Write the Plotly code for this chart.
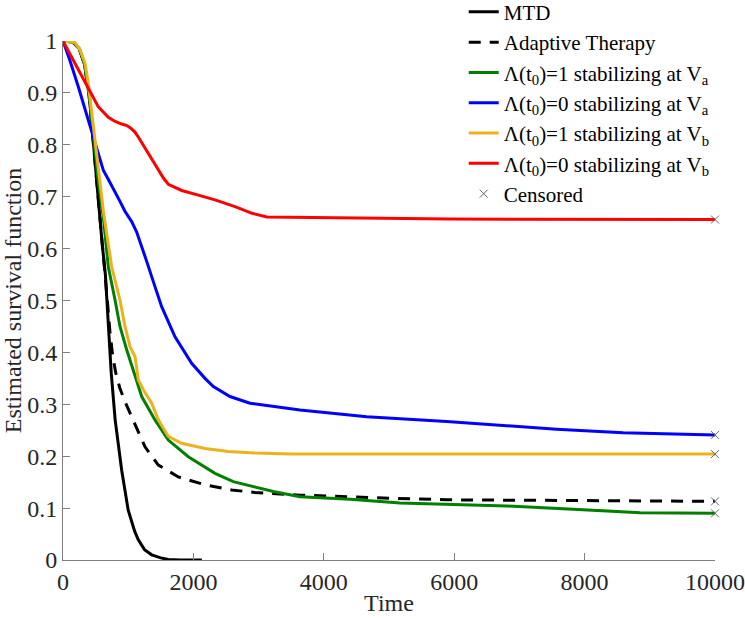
import plotly.graph_objects as go

# ---------------- data ----------------
mtd_t = [0, 150, 250, 330, 400, 470, 540, 600, 650, 700, 740, 800, 900, 1000, 1100, 1155, 1250, 1360, 1500, 1615, 1800, 2130]
mtd_s = [1.0, 0.998, 0.985, 0.955, 0.90, 0.80, 0.69, 0.61, 0.55, 0.45, 0.36, 0.27, 0.173, 0.096, 0.055, 0.039, 0.02, 0.010, 0.004, 0.001, 0.0, 0.0]

at_t = [0, 150, 250, 330, 400, 470, 540, 620, 680, 720, 760, 810, 870, 951, 1030, 1104, 1258, 1462, 1769, 2178, 2587, 2945, 3635, 5015, 5885, 10000]
at_s = [1.0, 0.998, 0.985, 0.955, 0.895, 0.80, 0.695, 0.585, 0.5, 0.44, 0.395, 0.36, 0.332, 0.305, 0.283, 0.263, 0.218, 0.183, 0.160, 0.145, 0.135, 0.130, 0.125, 0.119, 0.116, 0.113]

ga_t = [0, 150, 250, 330, 400, 470, 540, 618, 695, 798, 874, 977, 1078, 1207, 1411, 1615, 1922, 2331, 2612, 2945, 3225, 3635, 4402, 5169, 5782, 6805, 7827, 8850, 10000]
ga_s = [1.0, 0.998, 0.985, 0.955, 0.895, 0.81, 0.73, 0.661, 0.565, 0.501, 0.450, 0.405, 0.366, 0.315, 0.270, 0.231, 0.199, 0.167, 0.151, 0.141, 0.132, 0.122, 0.117, 0.110, 0.108, 0.104, 0.098, 0.091, 0.090]

ba_t = [0, 100, 235, 388, 491, 560, 618, 700, 798, 870, 950, 1053, 1130, 1207, 1290, 1360, 1513, 1718, 1973, 2178, 2306, 2561, 2868, 3635, 4658, 5885, 6442, 7572, 8589, 10000]
ba_s = [1.0, 0.965, 0.912, 0.848, 0.800, 0.772, 0.751, 0.732, 0.710, 0.692, 0.672, 0.652, 0.632, 0.605, 0.573, 0.546, 0.488, 0.430, 0.379, 0.350, 0.334, 0.315, 0.302, 0.289, 0.276, 0.267, 0.262, 0.252, 0.245, 0.241]

yb_t = [0, 184, 261, 337, 388, 440, 491, 542, 618, 670, 747, 874, 951, 1028, 1104, 1130, 1155, 1232, 1360, 1462, 1615, 1820, 2178, 2536, 2945, 3500, 10000]
yb_s = [1.0, 0.997, 0.983, 0.957, 0.918, 0.861, 0.809, 0.751, 0.674, 0.629, 0.565, 0.501, 0.450, 0.411, 0.392, 0.37, 0.347, 0.328, 0.302, 0.270, 0.238, 0.225, 0.215, 0.209, 0.206, 0.204, 0.204]

rb_t = [0, 184, 388, 542, 695, 800, 900, 980, 1040, 1100, 1155, 1230, 1308, 1385, 1462, 1540, 1615, 1820, 2075, 2331, 2638, 2900, 3124, 5936, 10000]
rb_s = [1.0, 0.957, 0.912, 0.873, 0.853, 0.845, 0.840, 0.837, 0.832, 0.825, 0.815, 0.800, 0.784, 0.768, 0.751, 0.736, 0.724, 0.712, 0.703, 0.694, 0.681, 0.668, 0.661, 0.657, 0.656]

cens_t = [10000, 10000, 10000, 10000, 10000]
cens_s = [0.656, 0.241, 0.204, 0.113, 0.090]

names = [
    "MTD",
    "Adaptive Therapy",
    "Λ(t<sub>0</sub>)=1 stabilizing at V<sub>a</sub>",
    "Λ(t<sub>0</sub>)=0 stabilizing at V<sub>a</sub>",
    "Λ(t<sub>0</sub>)=1 stabilizing at V<sub>b</sub>",
    "Λ(t<sub>0</sub>)=0 stabilizing at V<sub>b</sub>",
    "Censored",
]
colors = ["#000000", "#000000", "#008000", "#0000FF", "#EDB120", "#FF0000"]

x_ticks = [0, 2000, 4000, 6000, 8000, 10000]
y_ticks = [0, 0.1, 0.2, 0.3, 0.4, 0.5, 0.6, 0.7, 0.8, 0.9, 1]
y_ticklabels = ["0", "0.1", "0.2", "0.3", "0.4", "0.5", "0.6", "0.7", "0.8", "0.9", "1"]

FONT = "Liberation Serif, Times New Roman, serif"

fig = go.Figure()
series = [(mtd_t, mtd_s), (at_t, at_s), (ga_t, ga_s), (ba_t, ba_s), (yb_t, yb_s), (rb_t, rb_s)]
for i, (t, s) in enumerate(series):
    fig.add_trace(go.Scatter(
        x=t, y=s, mode="lines", name=names[i],
        line=dict(color=colors[i], width=3, dash="12px,9px" if i == 1 else "solid"),
    ))

fig.add_trace(go.Scatter(
    x=cens_t, y=cens_s, mode="markers", name=names[6],
    marker=dict(symbol="x-thin", size=8, line=dict(color="#666666", width=1)),
    cliponaxis=False,
))

axis_common = dict(
    showgrid=False, zeroline=False, showline=True, linecolor="#808080", linewidth=1,
    ticks="inside", ticklen=7, tickcolor="#808080", tickwidth=1,
    tickfont=dict(family=FONT, size=24, color="#262626"),
    mirror=False, automargin=False,
)

fig.update_layout(
    width=745, height=619,
    margin=dict(l=63, r=30, t=41, b=59, autoexpand=False),
    paper_bgcolor="white", plot_bgcolor="white",
    font=dict(family=FONT, color="#262626"),
    xaxis=dict(range=[0, 10000], tickvals=x_ticks, ticktext=[str(v) for v in x_ticks],
               title=dict(text="Time", font=dict(family=FONT, size=24, color="#262626"), standoff=0),
               **axis_common),
    yaxis=dict(range=[0, 1], tickvals=y_ticks, ticktext=y_ticklabels,
               title=dict(text="Estimated survival function", font=dict(family=FONT, size=24, color="#262626"), standoff=0),
               **axis_common),
    legend=dict(
        x=0.6146, y=1.095, xanchor="left", yanchor="top",
        bgcolor="rgba(255,255,255,0)", borderwidth=0,
        font=dict(family=FONT, size=21, color="#000000"),
        tracegroupgap=0, itemwidth=30,
    ),
    showlegend=True,
)

fig.write_html("out.html", config={"displayModeBar": False},
               post_script="document.body.style.margin='0';")
